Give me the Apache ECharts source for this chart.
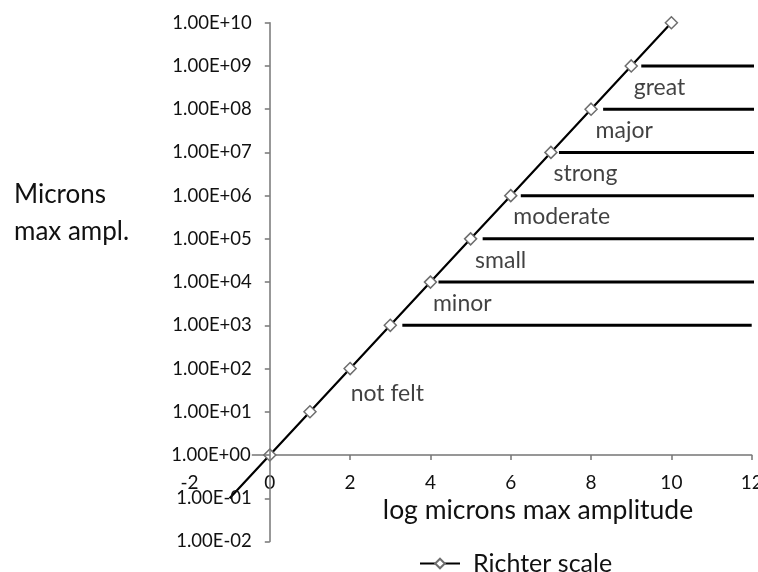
<!DOCTYPE html>
<html>
<head>
<meta charset="utf-8">
<title>Richter scale</title>
<script src="https://cdn.jsdelivr.net/npm/echarts@6/dist/echarts.min.js"></script>
<style>
  html, body { margin: 0; padding: 0; background: #fff; }
  #chart { width: 758px; height: 572px; }
</style>
</head>
<body>
<div id="chart"></div>
<script>
// Richter magnitude against maximum amplitude (microns)
const magnitudes = [-1, 0, 1, 2, 3, 4, 5, 6, 7, 8, 9, 10];
const amplitudes = [1e-1, 1e0, 1e1, 1e2, 1e3, 1e4, 1e5, 1e6, 1e7, 1e8, 1e9, 1e10];

// Horizontal boundaries between the severity bands
const bandLevels = [1e3, 1e4, 1e5, 1e6, 1e7, 1e8, 1e9];
const bandStarts = [3.3, 4.2, 5.3, 6.25, 7.2, 8.3, 9.25];
const bandEnds = [12, 12.2, 12.2, 12.2, 12.2, 12.2, 12.2];

// Severity band names and their anchor points (left edge of the text)
const bandNames = ['not felt', 'minor', 'small', 'moderate', 'strong', 'major', 'great'];
const bandNameX = [2.0, 4.05, 5.1, 6.05, 7.05, 8.1, 9.05];
const bandNameY = [2.7e1, 3.2e3, 3.2e4, 3.2e5, 3.2e6, 3.2e7, 3.2e8];

// Axis ticks
const xTickValues = [-2, 0, 2, 4, 6, 8, 10, 12];
const yTickExponents = [-2, -1, 0, 1, 2, 3, 4, 5, 6, 7, 8, 9, 10];
const yTickLabels = ['1.00E-02', '1.00E-01', '1.00E+00', '1.00E+01', '1.00E+02', '1.00E+03',
  '1.00E+04', '1.00E+05', '1.00E+06', '1.00E+07', '1.00E+08', '1.00E+09', '1.00E+10'];

const FONT = 'Lato, "Open Sans", sans-serif';
const TEXT = '#111';
const AXIS = '#767676';

const chart = echarts.init(document.getElementById('chart'), null, { renderer: 'canvas' });

const bandSeries = bandLevels.map((lvl, i) => ({
  type: 'line',
  name: 'band' + i,
  data: [[bandStarts[i], lvl], [bandEnds[i], lvl]],
  symbol: 'none',
  clip: false,
  silent: true,
  lineStyle: { color: '#000', width: 3 },
  z: 2
}));

chart.setOption({
  animation: false,
  backgroundColor: '#fff',
  grid: {
    left: 189.5, right: 6.3, top: 22.7, bottom: 30.5,
    containLabel: false, outerBoundsMode: 'none'
  },
  xAxis: {
    type: 'value',
    min: xTickValues[0],
    max: xTickValues[xTickValues.length - 1],
    interval: 2,
    position: 'bottom',
    // the horizontal axis crosses the vertical one at 1.00E+00
    offset: -86.5,
    axisLine: { show: true, onZero: false, lineStyle: { color: AXIS, width: 1.5 } },
    axisTick: { show: true, length: 5, lineStyle: { color: AXIS, width: 1.5 } },
    splitLine: { show: false },
    axisLabel: {
      margin: 18,
      fontFamily: FONT, fontSize: 19, color: TEXT,
      formatter: v => xTickValues.includes(v) ? String(v) : ''
    }
  },
  yAxis: {
    type: 'log',
    logBase: 10,
    min: 1e-2,
    max: 1e10,
    interval: 1,
    position: 'left',
    // the vertical axis crosses the horizontal one at x = 0
    offset: -80.3,
    z: 3,
    axisLine: { show: true, onZero: false, lineStyle: { color: AXIS, width: 1.5 } },
    axisTick: { show: true, length: 5, lineStyle: { color: AXIS, width: 1.5 } },
    splitLine: { show: false },
    minorTick: { show: false },
    axisLabel: {
      margin: 18,
      interval: 0,
      hideOverlap: false,
      fontFamily: FONT, fontSize: 18.5, color: TEXT,
      formatter: v => {
        const e = Math.round(Math.log10(v));
        const k = yTickExponents.indexOf(e);
        if (k < 0) return '';
        // the label at the crossing sits on top of the horizontal axis line
        return e === 0 ? '{cross|' + yTickLabels[k] + '}' : yTickLabels[k];
      },
      rich: {
        cross: {
          fontFamily: FONT, fontSize: 18.5, color: TEXT,
          backgroundColor: '#fff', padding: [0, 1, 0, 1]
        }
      }
    }
  },
  legend: {
    data: ['Richter scale'],
    left: 414,
    top: 546,
    itemWidth: 40,
    itemHeight: 12,
    textStyle: { fontFamily: FONT, fontSize: 25, color: TEXT, padding: [0, 0, 0, 8] }
  },
  graphic: [
    {
      type: 'text',
      left: 14, top: 176,
      style: {
        text: 'Microns\nmax ampl.',
        font: '26px ' + FONT,
        lineHeight: 37,
        fill: TEXT
      }
    },
    {
      type: 'text',
      x: 538, y: 510,
      style: {
        text: 'log microns max amplitude',
        font: '26.5px ' + FONT,
        align: 'center',
        verticalAlign: 'middle',
        fill: TEXT
      }
    }
  ],
  series: [
    {
      type: 'line',
      name: 'Richter scale',
      // the first point's marker sits under the 1.00E-01 tick label and is not drawn
      data: magnitudes.map((m, i) => i === 0
        ? { value: [m, amplitudes[i]], symbol: 'none' }
        : [m, amplitudes[i]]),
      symbol: 'diamond',
      symbolSize: 12,
      showAllSymbol: true,
      itemStyle: { color: '#fff', borderColor: '#6e6e6e', borderWidth: 1.5 },
      lineStyle: { color: '#000', width: 2.2 },
      z: 2
    },
    ...bandSeries,
    {
      type: 'scatter',
      name: 'band names',
      data: bandNames.map((n, i) => ({ name: n, value: [bandNameX[i], bandNameY[i]] })),
      symbolSize: 1,
      silent: true,
      itemStyle: { color: 'transparent' },
      label: {
        show: true,
        position: 'right',
        distance: 0,
        formatter: '{b}',
        fontFamily: FONT, fontSize: 23, color: TEXT
      }
    }
  ]
});
</script>
</body>
</html>
